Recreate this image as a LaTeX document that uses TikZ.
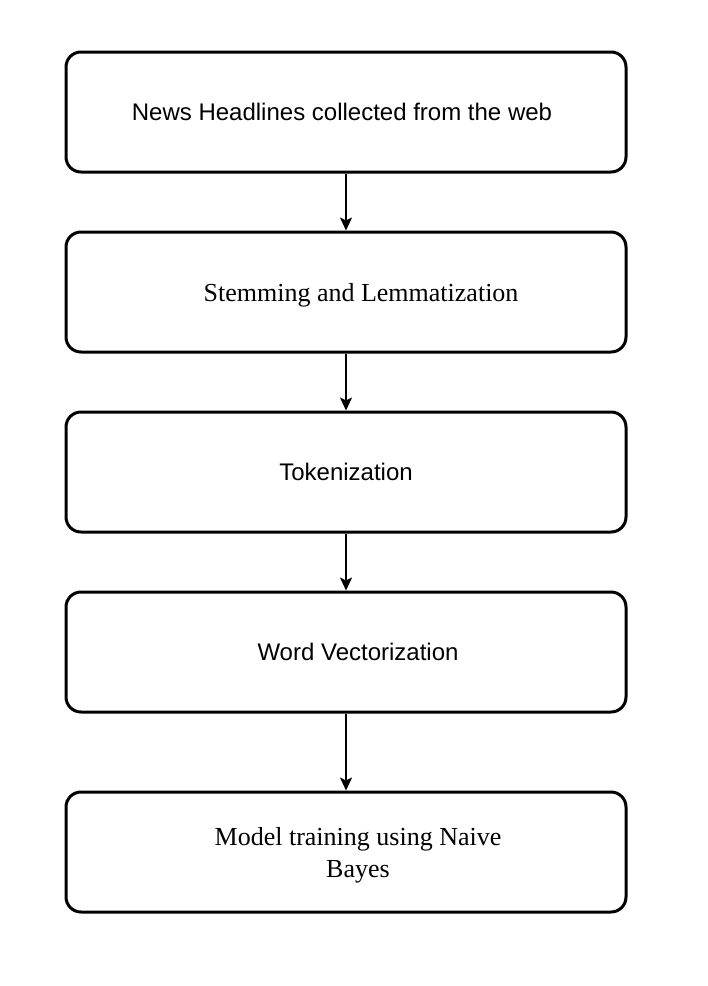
\documentclass[tikz,border=0pt]{standalone}
\usepackage{fontspec}
\setmainfont{Liberation Serif}
\newfontfamily\boxsans{Liberation Sans}
\usetikzlibrary{arrows.meta}
\begin{document}
\begin{tikzpicture}[x=1pt,y=-1pt,
  stage/.style={draw, line width=3pt, rounded corners=15pt, minimum width=560pt, minimum height=120pt, inner sep=0pt},
  sanslbl/.style={font=\boxsans\fontsize{24}{28}\selectfont, inner sep=0pt, anchor=base},
  seriflbl/.style={font=\fontsize{26}{32}\selectfont, inner sep=0pt, anchor=base, align=center},
  flow/.style={line width=2pt, -{Stealth[length=13pt,width=12pt,inset=3pt]}}]
\useasboundingbox (0,0) rectangle (708,986);
\node[stage] (b1) at (346,112) {};
\node[stage] (b2) at (346,292) {};
\node[stage] (b3) at (346,472) {};
\node[stage] (b4) at (346,652) {};
\node[stage] (b5) at (346,852) {};
\node[sanslbl] (t1) at (342,120) {News Headlines collected from the web};
\node[seriflbl] (t2) at (361,301) {Stemming and Lemmatization};
\node[sanslbl] (t3) at (346,480) {Tokenization};
\node[sanslbl] (t4) at (358,660) {Word Vectorization};
\node[seriflbl, anchor=center] (t5) at (358,855) {Model training using Naive\\Bayes};
\draw[flow] (b1.south) -- (b2.north);
\draw[flow] (b2.south) -- (b3.north);
\draw[flow] (b3.south) -- (b4.north);
\draw[flow] (b4.south) -- (b5.north);
\end{tikzpicture}
\end{document}
